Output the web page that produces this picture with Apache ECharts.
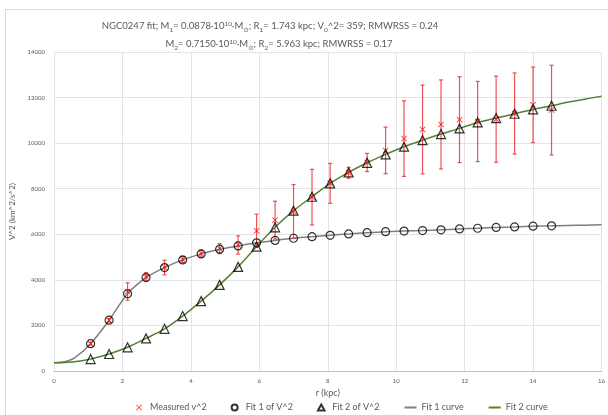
<!DOCTYPE html>
<html lang="en">
  <head>
    <meta charset="UTF-8" />
    <title>NGC0247 fit</title>
    <script src="https://cdn.jsdelivr.net/npm/echarts@6/dist/echarts.min.js"></script>
    <style>
      html, body { margin: 0; padding: 0; background: #fff; }
      #main { width: 608px; height: 415px; }
    </style>
  </head>
  <body>
    <div id="main"></div>
    <script>
      // radius of the measured points (kpc)
      const radius = [1.07, 1.61, 2.15, 2.69, 3.23, 3.76, 4.30, 4.84, 5.38, 5.92, 6.46, 7.00, 7.54,
        8.07, 8.61, 9.15, 9.69, 10.23, 10.77, 11.31, 11.85, 12.38, 12.92, 13.46, 14.00, 14.54];
      const measured = [1200, 2225, 3490, 4140, 4540, 4890, 5150, 5370, 5530, 6150, 6620, 7000, 7630,
        8235, 8700, 9150, 9680, 10200, 10600, 10820, 11030, 10950, 11050, 11300, 11680, 11450];
      const measuredErr = [60, 80, 380, 180, 320, 130, 150, 220, 400, 730, 830, 1180, 1220,
        875, 240, 400, 1025, 1660, 1950, 1955, 1885, 1760, 1890, 1780, 1660, 1970];
      const fit1 = [1200, 2230, 3390, 4100, 4540, 4875, 5140, 5345, 5490, 5625, 5730, 5825, 5895,
        5955, 6015, 6070, 6115, 6140, 6165, 6195, 6235, 6265, 6300, 6325, 6355, 6370];
      const fit2 = [525, 745, 1040, 1430, 1850, 2410, 3066, 3780, 4570, 5460, 6306, 7035, 7648,
        8235, 8717, 9138, 9505, 9843, 10131, 10398, 10647, 10910, 11099, 11291, 11480, 11642];
      // fit curves, sampled a bit wider than the data
      const curveR = [0, 0.3, 0.6, 1.07, 1.61, 2.15, 2.69, 3.23, 3.76, 4.30, 4.84, 5.38, 5.92, 6.46, 7.00,
        7.54, 8.07, 8.61, 9.15, 9.69, 10.23, 10.77, 11.31, 11.85, 12.38, 12.92, 13.46, 14.00, 14.54,
        15.0, 15.5, 16.0];
      const curve1 = [359, 405, 580, 1200, 2230, 3390, 4100, 4540, 4875, 5140, 5345, 5490, 5625, 5730, 5825,
        5895, 5955, 6015, 6070, 6115, 6140, 6165, 6195, 6235, 6265, 6300, 6325, 6355, 6370,
        6385, 6400, 6420];
      const curve2 = [359, 372, 405, 525, 745, 1040, 1430, 1850, 2410, 3066, 3780, 4570, 5460, 6306, 7035,
        7648, 8235, 8717, 9138, 9505, 9843, 10131, 10398, 10647, 10910, 11099, 11291, 11480, 11642,
        11790, 11930, 12060];
      const xTicks = [0, 2, 4, 6, 8, 10, 12, 14, 16];
      const yTicks = [0, 2000, 4000, 6000, 8000, 10000, 12000, 14000];

      const font = "Lato, 'DejaVu Sans', sans-serif";
      const textColor = "#595959";
      const xMark = "path://M0,1L1,0L5,4L9,0L10,1L6,5L10,9L9,10L5,6L1,10L0,9L4,5Z";
      const triIcon = "path://M5,0L10,9L0,9Z";

      const pairs = (xs, ys) => xs.map((x, i) => [x, ys[i]]);

      const sub = { fontSize: 6.5, verticalAlign: "bottom", lineHeight: 16, padding: [0, 0, 1, 0], fontFamily: font, color: textColor };
      const sup = { fontSize: 6.5, verticalAlign: "top", lineHeight: 16, padding: [2, 0, 0, 0], fontFamily: font, color: textColor };

      const myChart = echarts.init(document.getElementById("main"));
      const option = {
        animation: false,
        backgroundColor: "#fff",
        textStyle: { fontFamily: font },
        graphic: [
          {
            type: "rect",
            shape: { x: 5.5, y: 9.5, width: 700, height: 500 },
            style: { fill: "none", stroke: "#d9d9d9", lineWidth: 1 },
            silent: true
          },
          {
            type: "text",
            x: 270, y: 26,
            style: {
              text: "NGC0247 fit; M{s|1}= 0.0878·10{p|10}·M{s|⊙}; R{s|1}= 1.743 kpc; V{s|0}^2= 359; RMWRSS = 0.24",
              align: "center", verticalAlign: "middle",
              fontSize: 9.5, lineHeight: 16, fontFamily: font, fill: textColor,
              rich: { s: sub, p: sup }
            }
          },
          {
            type: "text",
            x: 279, y: 44,
            style: {
              text: "M{s|2}= 0.7150·10{p|10}·M{s|⊙}; R{s|2}= 5.963 kpc; RMWRSS = 0.17",
              align: "center", verticalAlign: "middle",
              fontSize: 9.5, lineHeight: 16, fontFamily: font, fill: textColor,
              rich: { s: sub, p: sup }
            }
          }
        ],
        grid: { left: 54, right: 2, top: 52, bottom: 44, containLabel: false },
        legend: {
          left: 131,
          top: 398,
          itemGap: 24,
          itemWidth: 12,
          itemHeight: 6,
          symbolKeepAspect: true,
          textStyle: { fontSize: 9, color: textColor, fontFamily: font },
          data: [
            "Measured v^2",
            "Fit 1 of V^2",
            { name: "Fit 2 of V^2", icon: triIcon },
            { name: "Fit 1 curve", itemStyle: { opacity: 0 } },
            { name: "Fit 2 curve", itemStyle: { opacity: 0 } }
          ]
        },
        xAxis: {
          type: "value",
          min: xTicks[0],
          max: xTicks[xTicks.length - 1],
          interval: 2,
          name: "r (kpc)",
          nameLocation: "middle",
          nameGap: 16,
          nameTextStyle: { fontSize: 9, color: textColor },
          axisLine: { show: true, lineStyle: { color: "#bfbfbf" } },
          axisTick: { show: false },
          axisLabel: { fontSize: 6, color: textColor, margin: 7 },
          splitLine: { show: true, lineStyle: { color: "#e3e3e3" } }
        },
        yAxis: {
          type: "value",
          min: yTicks[0],
          max: yTicks[yTicks.length - 1],
          interval: 2000,
          name: "V^2 (km^2/s^2)",
          nameLocation: "middle",
          nameGap: 27,
          nameTextStyle: { fontSize: 8, color: textColor },
          axisLine: { show: true, lineStyle: { color: "#e3e3e3" } },
          axisTick: { show: false },
          axisLabel: { fontSize: 6, color: textColor, margin: 9, formatter: (v) => String(v) },
          splitLine: { show: true, lineStyle: { color: "#e3e3e3" } }
        },
        series: [
          {
            name: "Fit 1 curve",
            type: "line",
            data: pairs(curveR, curve1),
            symbol: "none",
            smooth: 0.3,
            lineStyle: { color: "#7f7f7f", width: 1.5 },
            itemStyle: { color: "#7f7f7f" },
            z: 2
          },
          {
            name: "Fit 2 curve",
            type: "line",
            data: pairs(curveR, curve2),
            symbol: "none",
            smooth: 0.3,
            lineStyle: { color: "#548235", width: 1.5 },
            itemStyle: { color: "#548235" },
            z: 2
          },
          {
            name: "errors",
            type: "custom",
            data: radius.map((r, i) => [r, measured[i], measuredErr[i]]),
            renderItem: function (params, api) {
              const x = api.value(0), y = api.value(1), e = api.value(2);
              const top = api.coord([x, y + e]);
              const bot = api.coord([x, y - e]);
              const st = { stroke: "rgba(232,40,40,0.8)", lineWidth: 1.2 };
              return {
                type: "group",
                children: [
                  { type: "line", shape: { x1: top[0], y1: top[1], x2: bot[0], y2: bot[1] }, style: st },
                  { type: "line", shape: { x1: top[0] - 2, y1: top[1], x2: top[0] + 2, y2: top[1] }, style: st },
                  { type: "line", shape: { x1: bot[0] - 2, y1: bot[1], x2: bot[0] + 2, y2: bot[1] }, style: st }
                ]
              };
            },
            silent: true,
            z: 3
          },
          {
            name: "Measured v^2",
            type: "scatter",
            data: pairs(radius, measured),
            symbol: xMark,
            symbolSize: 6,
            itemStyle: { color: "#ff0000" },
            z: 4
          },
          {
            name: "Fit 1 of V^2",
            type: "scatter",
            data: pairs(radius, fit1),
            symbol: "circle",
            symbolSize: 8,
            itemStyle: { color: "rgba(255,255,255,0)", borderColor: "#000", borderWidth: 1.2 },
            z: 5
          },
          {
            name: "Fit 2 of V^2",
            type: "scatter",
            data: pairs(radius, fit2),
            symbol: "triangle",
            symbolSize: 9,
            itemStyle: { color: "rgba(255,255,255,0)", borderColor: "#000", borderWidth: 1.2 },
            z: 5
          }
        ]
      };
      myChart.setOption(option);
    </script>
  </body>
</html>
